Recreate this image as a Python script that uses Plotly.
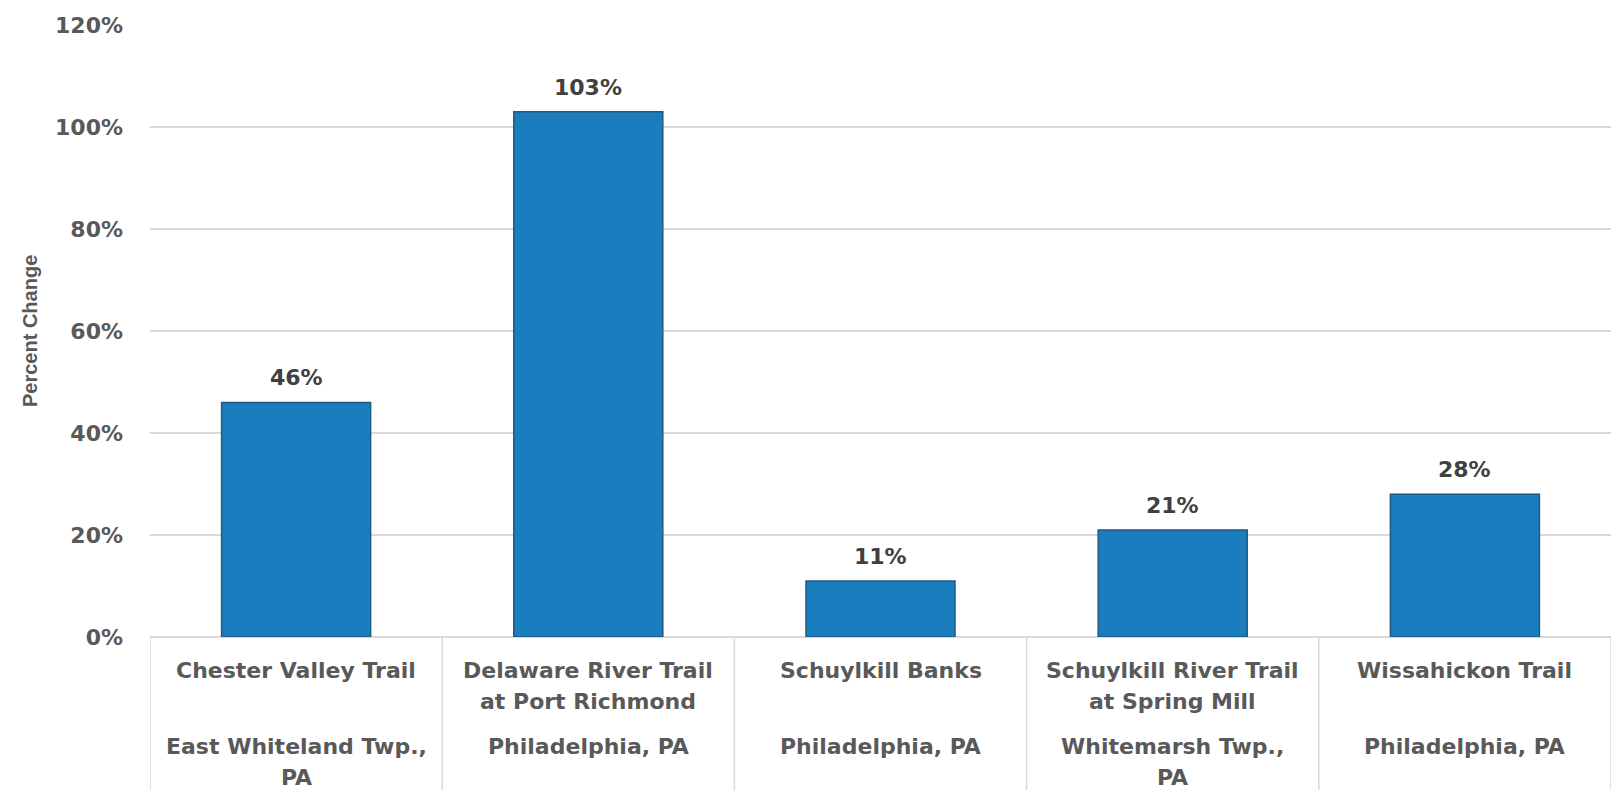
import plotly.graph_objects as go

trail_names = ["Chester Valley Trail", "Delaware River Trail<br>at Port Richmond", "Schuylkill Banks",
               "Schuylkill River Trail<br>at Spring Mill", "Wissahickon Trail"]
locations = ["East Whiteland Twp.,<br>PA", "Philadelphia, PA", "Philadelphia, PA",
             "Whitemarsh Twp.,<br>PA", "Philadelphia, PA"]
pct_change = [46, 103, 11, 21, 28]
y_ticks = [0, 20, 40, 60, 80, 100, 120]

W, H = 1611, 790
plot_left, plot_top, plot_bottom = 150, 25, 637
plot_h = plot_bottom - plot_top

FONT = "Liberation Sans, Arial, sans-serif"
WIDE = "DejaVu Sans, Liberation Sans, sans-serif"
LABEL_COLOR = "#595959"
GRID = "#d9d9d9"

x_idx = list(range(len(pct_change)))

fig = go.Figure()
fig.add_trace(go.Bar(
    x=x_idx, y=pct_change, width=0.51,
    marker=dict(color="#1a7dbd", line=dict(color="#1d5a85", width=1.5)),
    hoverinfo="skip", showlegend=False,
))

def py(p):
    return (plot_bottom - p) / plot_h

LINE_GAP = 31
annotations = []
for i, v in enumerate(pct_change):
    annotations.append(dict(x=i, y=v, xref="x", yref="y", text=f"{v}%", showarrow=False,
                            yanchor="bottom", yshift=10,
                            font=dict(family=WIDE, size=22, color="#404040", weight=700)))
for i, (n, loc) in enumerate(zip(trail_names, locations)):
    for block, top in ((n, 670), (loc, 746)):
        for j, line in enumerate(block.split("<br>")):
            annotations.append(dict(x=i, y=py(top + j * LINE_GAP), xref="x", yref="paper",
                                    text=line, showarrow=False, yanchor="middle",
                                    font=dict(family=WIDE, size=22, color=LABEL_COLOR, weight=700)))
annotations.append(dict(x=30 / W, y=py(331), xref="paper", yref="paper", text="Percent Change",
                        showarrow=False, textangle=-90, xanchor="center", yanchor="middle",
                        font=dict(family=FONT, size=20, color=LABEL_COLOR, weight=700)))

shapes = []
for k in range(len(pct_change) + 1):
    shapes.append(dict(type="line", xref="x", yref="paper", x0=k - 0.5, x1=k - 0.5,
                       y0=0, y1=py(H), line=dict(color=GRID, width=1.5), layer="below"))

fig.update_layout(
    width=W, height=H,
    margin=dict(l=0, r=0, t=plot_top, b=H - plot_bottom, pad=0),
    paper_bgcolor="white", plot_bgcolor="white",
    bargap=0.49,
    xaxis=dict(domain=[plot_left / W, 1], range=[-0.5, len(pct_change) - 0.5],
               showticklabels=False, showgrid=False, zeroline=False, showline=False,
               fixedrange=True),
    yaxis=dict(range=[0, 120], tickvals=y_ticks, ticktext=[f"{t}%" for t in y_ticks],
               showgrid=True, gridcolor=GRID, gridwidth=1.5,
               zeroline=True, zerolinecolor=GRID, zerolinewidth=1.5,
               showline=False, ticks="", ticklabelstandoff=26,
               tickfont=dict(family=WIDE, size=22, color=LABEL_COLOR, weight=700),
               fixedrange=True),
    annotations=annotations, shapes=shapes,
)

fig.write_html("out.html")
